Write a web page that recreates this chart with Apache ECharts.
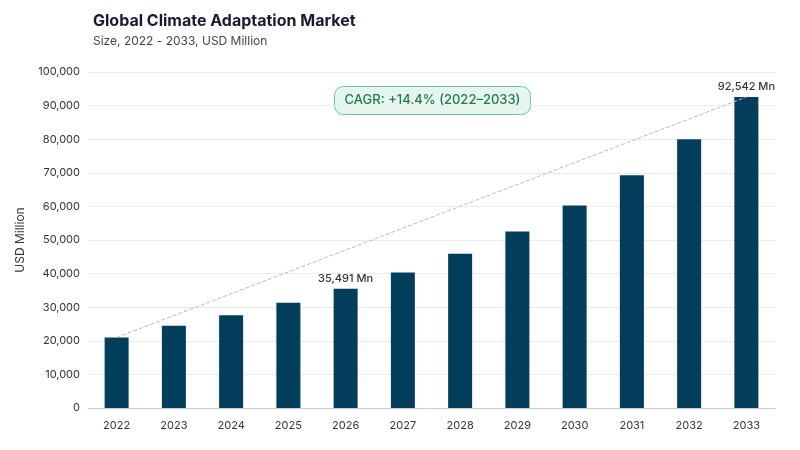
<!DOCTYPE html>
<html>
<head>
<meta charset="utf-8">
<script src="https://cdn.jsdelivr.net/npm/echarts@6/dist/echarts.min.js"></script>
<style>html,body{margin:0;padding:0;background:#fff}#main{width:800px;height:450px}</style>
</head>
<body>
<div id="main"></div>
<script>
// chart data
const years = ['2022','2023','2024','2025','2026','2027','2028','2029','2030','2031','2032','2033']
const sizes = [21000, 24500, 27600, 31300, 35491, 40300, 45900, 52500, 60300, 69300, 80000, 92542]
const labelled = { '2026': '35,491 Mn', '2033': '92,542 Mn' }
const cagrText = 'CAGR: +14.4% (2022–2033)'

let chart = echarts.init(document.getElementById('main'))
let last = years.length - 1
chart.setOption({
  textStyle: { fontFamily: 'Inter' },
  title: {
    text: 'Global Climate Adaptation Market',
    subtext: 'Size, 2022 - 2033, USD Million',
    left: 88, top: 8,
    textStyle: { fontSize: 16, fontWeight: 'bold', color: '#1a1a2e' },
    subtextStyle: { fontSize: 12, color: '#444' },
    itemGap: 6
  },
  grid: { left: 88, right: 25, top: 72, bottom: 42 },
  xAxis: {
    type: 'category', data: years,
    axisLine: { lineStyle: { color: '#ccc' } },
    axisTick: { show: false },
    axisLabel: { color: '#333', fontSize: 11, margin: 12 }
  },
  yAxis: {
    type: 'value', min: 0, max: 100000, interval: 10000,
    name: 'USD Million', nameLocation: 'middle', nameGap: 62,
    nameTextStyle: { color: '#333', fontSize: 12 },
    axisLabel: { color: '#333', fontSize: 11, formatter: v => v.toLocaleString('en-US') },
    splitLine: { lineStyle: { color: '#ebebeb' } }
  },
  series: [{
    type: 'bar', data: sizes, barWidth: 24,
    itemStyle: { color: '#023e5c' },
    label: {
      show: true, position: 'top', color: '#333', fontSize: 11, fontWeight: 500,
      formatter: p => labelled[p.name] || ''
    },
    markLine: {
      silent: true, symbol: 'none',
      lineStyle: { type: 'dashed', color: '#bbb', width: 1 },
      label: { show: false },
      data: [[{ coord: [years[0], sizes[0]] }, { coord: [years[last], sizes[last]] }]]
    }
  }],
  graphic: [{
    type: 'group', left: 334, top: 86,
    children: [
      { type: 'rect', shape: { x: 0, y: 0, width: 196, height: 28, r: 9 },
        style: { fill: '#e6f6ef', stroke: '#6cc5a0', lineWidth: 1 } },
      { type: 'text', x: 98, y: 14,
        style: { text: cagrText, fill: '#1f7a55', font: '500 13px Inter', align: 'center', verticalAlign: 'middle' } }
    ]
  }]
})
</script>
</body>
</html>
